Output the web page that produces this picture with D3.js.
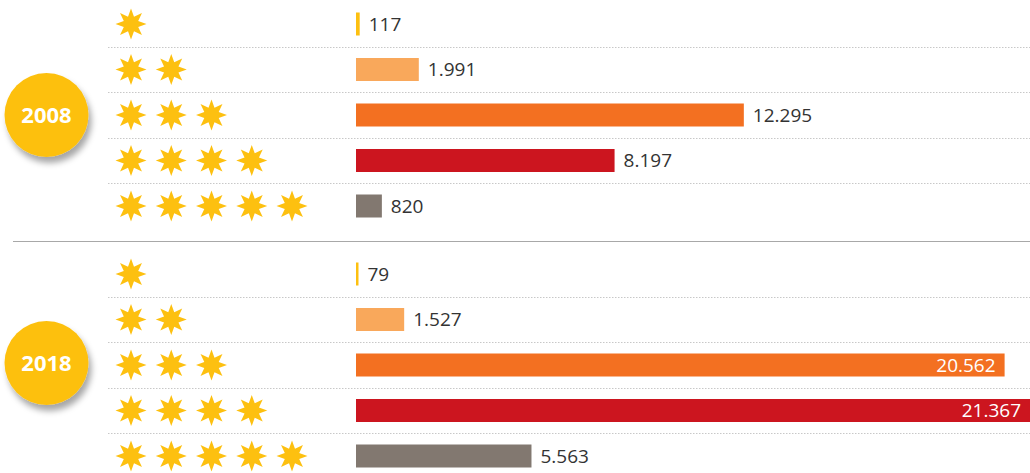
<!DOCTYPE html>
<html>
<head>
<meta charset="utf-8">
<script src="https://cdn.jsdelivr.net/npm/d3@7"></script>
<style>
  body { margin: 0; background: #fff; }
  svg { display: block; }
</style>
</head>
<body>
<div id="chart"></div>
<script>
let width = 1030;
let height = 473;

// data
let years = ["2008", "2018"];
let stars = [1, 2, 3, 4, 5];
let values2008 = [117, 1991, 12295, 8197, 820];
let values2018 = [79, 1527, 20562, 21367, 5563];
let colors = ["#FDC010", "#F9A85B", "#F37021", "#CC151F", "#827870"];

let fmt = v => d3.format(",")(v).replace(/,/g, ".");

let svg = d3.select("#chart").append("svg")
    .attr("width", width).attr("height", height);

let defs = svg.append("defs");
defs.append("filter").attr("id", "shadow")
    .attr("x", "-30%").attr("y", "-30%").attr("width", "170%").attr("height", "170%")
  .append("feDropShadow")
    .attr("dx", 3).attr("dy", 6).attr("stdDeviation", 3)
    .attr("flood-color", "#000").attr("flood-opacity", 0.35);

let group = d3.scaleBand().domain(years).range([1.25, 478.75]).paddingInner(0.09);
let x = d3.scaleLinear().domain([0, 21367]).range([356, 1030]);
let starX = d3.scaleLinear().domain([1, 5]).range([131, 292]);

let starPath = d3.lineRadial().curve(d3.curveLinearClosed)(
    d3.range(16).map(i => [i * Math.PI / 8, i % 2 ? 7.8 : 15.5]));

let data = [values2008, values2018];

years.forEach((yr, gi) => {
  let y = d3.scaleBand().domain(stars)
      .range([group(yr), group(yr) + group.bandwidth()]);
  let g = svg.append("g");
  let vals = data[gi];

  // dotted separators
  g.selectAll("line.sep").data(stars.slice(1)).join("line")
      .attr("x1", 108).attr("x2", width)
      .attr("y1", d => Math.round(y(d)) + 0.5).attr("y2", d => Math.round(y(d)) + 0.5)
      .attr("stroke", "#c8c8c8").attr("stroke-dasharray", "1.5,1.5");

  // stars
  stars.forEach(s => {
    g.selectAll(null).data(d3.range(1, s + 1)).join("path")
        .attr("d", starPath)
        .attr("fill", "#FDC010")
        .attr("transform", d => `translate(${starX(d)},${y(s) + y.bandwidth() / 2})`);
  });

  // bars
  let bh = 23;
  g.selectAll("rect").data(vals).join("rect")
      .attr("x", x(0))
      .attr("y", (d, i) => y(stars[i]) + y.bandwidth() / 2 - bh / 2)
      .attr("width", d => x(d) - x(0))
      .attr("height", bh)
      .attr("fill", (d, i) => colors[i]);

  g.selectAll("text.val").data(vals).join("text")
      .attr("class", "val")
      .attr("font-family", "'Open Sans', sans-serif")
      .attr("font-size", 19)
      .attr("y", (d, i) => y(stars[i]) + y.bandwidth() / 2)
      .attr("dy", "0.36em")
      .text(d => fmt(d))
      .each(function(d) {
        let inside = x(d) > 960;
        d3.select(this)
          .attr("x", inside ? x(d) - 9 : x(d) + 9)
          .attr("text-anchor", inside ? "end" : "start")
          .attr("fill", inside ? "#fff" : "#333");
      });

  // year badge
  let cy = group(yr) + group.bandwidth() / 2 - (gi ? 2 : 0);
  g.append("circle")
      .attr("cx", 46.5).attr("cy", cy).attr("r", 42)
      .attr("fill", "#FDC010")
      .attr("filter", "url(#shadow)");
  g.append("text")
      .attr("x", 46.5).attr("y", cy).attr("dy", "0.36em")
      .attr("text-anchor", "middle")
      .attr("font-family", "'Open Sans', sans-serif")
      .attr("font-weight", "bold")
      .attr("font-size", 22)
      .attr("fill", "#fff")
      .text(yr);
});

// solid divider between the two years
svg.append("line")
    .attr("x1", 13).attr("x2", width)
    .attr("y1", 241.5).attr("y2", 241.5)
    .attr("stroke", "#a8a8a8").attr("stroke-width", 1);
</script>
</body>
</html>
